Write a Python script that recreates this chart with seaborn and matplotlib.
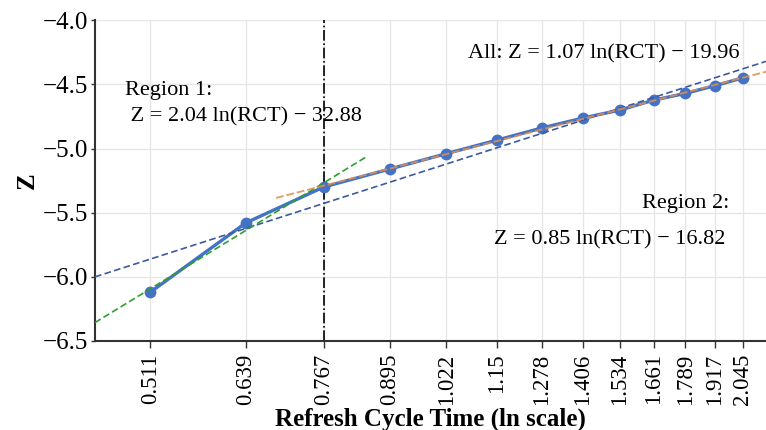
import numpy as np
import pandas as pd
import matplotlib
matplotlib.use("Agg")
import matplotlib.pyplot as plt
import seaborn as sns

# Data
rct = [0.511, 0.639, 0.767, 0.895, 1.022, 1.15, 1.278, 1.406, 1.534, 1.661, 1.789, 1.917, 2.045]
tick_labels = ["0.511", "0.639", "0.767", "0.895", "1.022", "1.15", "1.278", "1.406",
               "1.534", "1.661", "1.789", "1.917", "2.045"]
z_vals = [-6.12, -5.58, -5.30, -5.16, -5.04, -4.935, -4.84, -4.763, -4.70, -4.623, -4.57, -4.51, -4.45]
split_rct = 0.767

eq_region1 = "Region 1:\n Z = 2.04 ln(RCT) \u2212 32.88"
eq_all = "All: Z = 1.07 ln(RCT) \u2212 19.96"
eq_region2_title = "Region 2:"
eq_region2 = "Z = 0.85 ln(RCT) \u2212 16.82"

sns.set_theme(style="whitegrid")
plt.rcParams["font.family"] = ["Liberation Serif", "DejaVu Serif"]
plt.rcParams["axes.unicode_minus"] = True
plt.rcParams["text.color"] = "black"
plt.rcParams["axes.labelcolor"] = "black"
plt.rcParams["xtick.color"] = "black"
plt.rcParams["ytick.color"] = "black"

fig = plt.figure(figsize=(7.66, 4.30), dpi=100)
ax = fig.add_axes([0.124, 0.207, 0.876, 0.746])

x = np.array(rct)
z = np.array(z_vals)
lx = np.log(x)

xmin, xmax = 0.449, 2.16

def fit_line(mask, x0, x1):
    p = np.polyfit(lx[mask], z[mask], 1)
    xs = np.exp(np.linspace(np.log(x0), np.log(x1), 50))
    return pd.DataFrame({"x": xs, "z": np.polyval(p, np.log(xs))})

m1 = x <= split_rct
m2 = x >= split_rct
mall = np.ones_like(x, dtype=bool)

df = pd.DataFrame({"x": x, "z": z})
sns.lineplot(data=df, x="x", y="z", ax=ax, color="#4472c4", lw=2.4, marker="o",
             markersize=8.5, markeredgewidth=0, zorder=3)

f_all = fit_line(mall, xmin, xmax)
sns.lineplot(data=f_all, x="x", y="z", ax=ax, color="#3d5a9e", lw=1.2,
             linestyle=(0, (4, 2)), zorder=4)
f1 = fit_line(m1, xmin, 0.851)
sns.lineplot(data=f1, x="x", y="z", ax=ax, color="#2ca02c", lw=1.2,
             linestyle=(0, (4, 2)), zorder=4)
f2 = fit_line(m2, 0.686, xmax)
sns.lineplot(data=f2, x="x", y="z", ax=ax, color="#e0904f", lw=1.4,
             linestyle=(0, (4, 1.5)), zorder=4, alpha=0.85)

ax.axvline(split_rct, color="black", lw=1.2, linestyle="-.", zorder=2)

ax.set_xscale("log")
ax.set_xlim(xmin, xmax)
ax.set_ylim(-6.5, -4.0)
ax.set_xticks(rct)
ax.set_xticklabels(tick_labels, rotation=90)
ax.xaxis.set_minor_locator(matplotlib.ticker.NullLocator())
ax.set_yticks([-6.5, -6.0, -5.5, -5.0, -4.5, -4.0])
ax.set_yticklabels(["\u22126.5", "\u22126.0", "\u22125.5", "\u22125.0", "\u22124.5", "\u22124.0"])
ax.tick_params(axis="x", labelsize=16.5, bottom=True, length=5, width=1, color="#333333", pad=4)
ax.tick_params(axis="y", labelsize=18, left=True, length=3, width=1, color="#333333", pad=2)

ax.grid(True, color="#e6e6e6", lw=1)
ax.set_facecolor("white")
for s in ["top", "right"]:
    ax.spines[s].set_visible(False)
for s in ["left", "bottom"]:
    ax.spines[s].set_color("#333333")
    ax.spines[s].set_linewidth(1.5)

ax.set_xlabel("Refresh Cycle Time (ln scale)", fontsize=18, fontweight="bold", labelpad=2)
ax.set_ylabel("Z", fontsize=18, fontweight="bold", labelpad=3)

ax.text(0.045, 0.74, eq_region1, transform=ax.transAxes, fontsize=16,
        ha="left", va="center", linespacing=1.5)
ax.text(0.96, 0.895, eq_all, transform=ax.transAxes, fontsize=16, ha="right", va="center")
ax.text(0.945, 0.43, eq_region2_title, transform=ax.transAxes, fontsize=16, ha="right", va="center")
ax.text(0.94, 0.315, eq_region2, transform=ax.transAxes, fontsize=16, ha="right", va="center")

fig.savefig("out.png", dpi=100)
